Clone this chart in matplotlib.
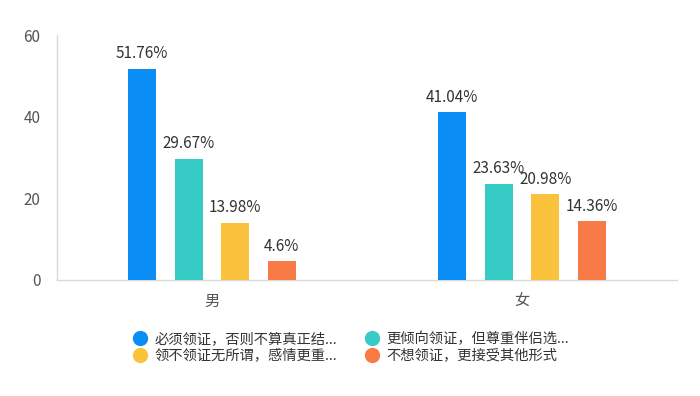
import matplotlib
matplotlib.use("Agg")
import matplotlib.pyplot as plt
from matplotlib.lines import Line2D
import numpy as np

plt.rcParams['font.family'] = ['Noto Sans CJK SC', 'DejaVu Sans']

categories = ["男", "女"]
series_names = ["必须领证，否则不算真正结...", "更倾向领证，但尊重伴侣选...",
                "领不领证无所谓，感情更重...", "不想领证，更接受其他形式"]
values = [
    [51.76, 41.04],
    [29.67, 23.63],
    [13.98, 20.98],
    [4.6, 14.36],
]
labels = [
    ["51.76%", "41.04%"],
    ["29.67%", "23.63%"],
    ["13.98%", "20.98%"],
    ["4.6%", "14.36%"],
]
colors = ["#0A8EF6", "#36CCC5", "#FBC23D", "#F77A47"]
yticks = [0, 20, 40, 60]

fig = plt.figure(figsize=(7.0, 3.96), dpi=100)
ax = fig.add_axes([57/700, 1-280/396, 620/700, 245/396])

x = np.arange(len(categories))
offsets = [-0.225, -0.075, 0.075, 0.225]
bw = 0.09
for i in range(4):
    bars = ax.bar(x + offsets[i], values[i], width=bw, color=colors[i], zorder=3)
    for b, lab in zip(bars, labels[i]):
        ax.text(b.get_x() + b.get_width()/2, b.get_height() + 1.6, lab,
                ha='center', va='bottom', fontsize=11, color='#333333')

ax.set_xlim(-0.5, 1.5)
ax.set_ylim(0, 60)
ax.set_yticks(yticks)
ax.set_yticklabels([str(v) for v in yticks])
ax.set_xticks(x)
ax.set_xticklabels(categories)
for s in ['top', 'right']:
    ax.spines[s].set_visible(False)
for s in ['left', 'bottom']:
    ax.spines[s].set_color('#D9D9D9')
    ax.spines[s].set_linewidth(1)
ax.tick_params(axis='both', length=0, labelsize=11, colors='#555555')
ax.tick_params(axis='y', pad=12)
ax.tick_params(axis='x', pad=9)

handles = [Line2D([], [], marker='o', linestyle='', markersize=10,
                  markerfacecolor=c, markeredgecolor=c) for c in colors]
order = [0, 2, 1, 3]
fig.legend([handles[i] for i in order], [series_names[i] for i in order],
           ncol=2, loc='center', bbox_to_anchor=(351/700, 1-347/396),
           frameon=False, fontsize=10.3, handletextpad=0.5, columnspacing=1.9,
           labelspacing=0.2, handlelength=1.0, labelcolor='#333333')

fig.savefig("out.png", dpi=100, facecolor='white')
